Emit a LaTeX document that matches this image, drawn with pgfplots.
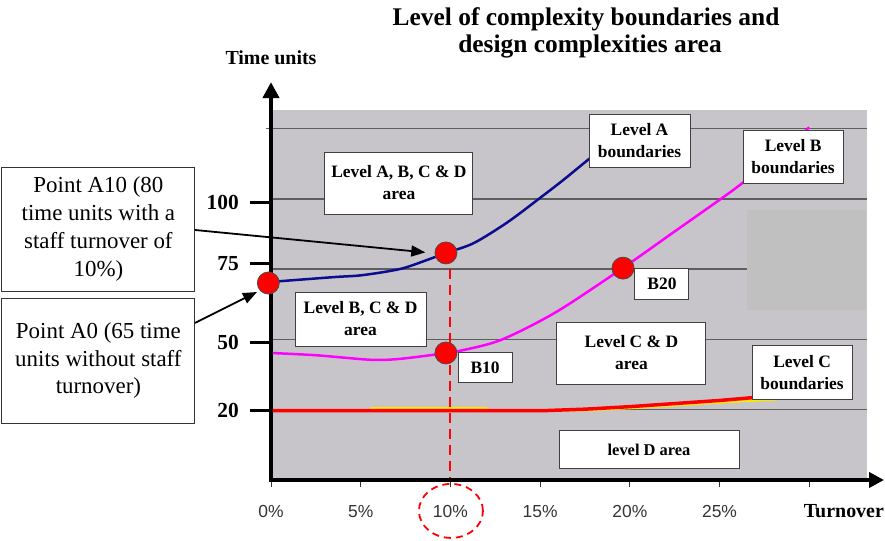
\documentclass[border=0pt]{standalone}
\usepackage{fontspec}
\setmainfont{Liberation Serif}
\setsansfont{Liberation Sans}
\usepackage{pgfplots}
\pgfplotsset{compat=1.18}
\usetikzlibrary{arrows.meta}
\definecolor{bgc}{HTML}{C7C5C9}
\definecolor{darkc}{HTML}{C0C0C0}
\definecolor{gridc}{HTML}{5E5E5E}
\definecolor{navyc}{HTML}{0C0C8E}
\definecolor{magc}{HTML}{FF00FF}
\definecolor{yelc}{HTML}{F5EA00}
\definecolor{tickc}{HTML}{333333}
\tikzset{
  bx/.style={draw=black!75, line width=0.9bp, fill=white, align=center, inner sep=0pt, font=\bfseries\fontsize{17.5}{22}\selectfont},
  lbx/.style={draw=black!80, line width=0.9bp, fill=white, align=center, inner sep=0pt, font=\fontsize{23}{28}\selectfont},
}
\begin{document}
\begin{tikzpicture}
\path[use as bounding box] (0,0) rectangle (885bp,541bp);
\begin{axis}[
  at={(271bp,61bp)}, anchor=south west,
  scale only axis, width=596bp, height=370bp,
  xmin=0, xmax=33.22, ymin=0, ymax=131.67,
  clip=false,
  axis lines*=left,
  axis line style={draw=none},
  tick align=outside,
  major tick length=7bp,
  xtick={0,5,10,15,20,25,30},
  xticklabels={0\%,5\%,10\%,15\%,20\%,25\%,},
  xtick style={tickc, line width=0.8bp},
  xticklabel style={font=\sffamily\fontsize{17.5}{17.5}\selectfont, text=tickc, anchor=base, inner sep=0pt, yshift=-30bp},
  ytick={24.9,49.1,76.9,98.9},
  yticklabels={20,50,75,100},
  ytick style={draw=none},
  yticklabel style={font=\bfseries\fontsize{21.5}{21.5}\selectfont, anchor=east, inner sep=0pt, xshift=-25bp},
  /pgf/number format/assume math mode=true,
]
% background
\fill[bgc] (rel axis cs:0,0) rectangle (rel axis cs:1,1);
% grid lines
\draw[gridc, line width=1.5bp] (axis cs:0,25) -- (axis cs:33.22,25);
\draw[gridc, line width=1.5bp] (axis cs:0,50) -- (axis cs:33.22,50);
\draw[gridc, line width=1.5bp] (axis cs:0,75) -- (axis cs:26.53,75);
\draw[gridc, line width=1.5bp] (axis cs:0,100) -- (axis cs:33.22,100);
\draw[gridc, line width=1.5bp] ([xshift=-5bp]axis cs:0,125) -- (axis cs:33.22,125);
% darker patch
\fill[darkc] (axis cs:26.53,60.5) rectangle (axis cs:33.16,96.1);

% Level C boundaries (yellow + red)
\addplot[yelc, line width=1.8bp] coordinates {
  (0,24.9) (5.5,24.9) (5.6,25.6) (12,25.6) (12.1,24.7) (17.5,24.7)
  (20,25.5) (22.5,26.5) (25,27.5) (28.2,28.6)};
\addplot[red, line width=3.5bp] coordinates {
  (0,24.7) (15.3,24.7) (17.5,25.2) (20,26.1) (22.5,27.2) (25,28.3) (27,29.4) (30,31)};
% Level B boundaries
\addplot[magc, line width=2.5bp, smooth, tension=0.5] coordinates {
  (0,45.2) (2.5,44.4) (5.5,42.8) (7,43.0) (9,44.5) (9.75,45.2) (10.4,45.8)
  (12.8,49.8) (15.9,59.8) (19.6,75.4) (22.4,88) (25.2,100.6) (26.3,105.8)
  (28,114.5) (30,125.5)};
% Level A boundaries
\addplot[navyc, line width=2.5bp, smooth, tension=0.5] coordinates {
  (0,70.5) (3.5,72.2) (5.1,72.9) (7.2,75.1) (8.7,78.3) (9.75,80.8)
  (11.3,84.3) (13.2,91.8) (15,100.4) (16.3,106.8) (17.8,114.6) (20,125.5)};
% dashed drop line at 10%
\addplot[red, line width=2bp, dash pattern=on 10bp off 6bp] coordinates {(10,80.8) (10,0)};
% dashed ellipse round 10%
\draw[red, line width=1.8bp, dash pattern=on 7bp off 5bp] (axis cs:10.03,-11) ellipse [x radius=32bp, y radius=27bp];

% text boxes
\node[bx, minimum width=148bp, minimum height=62bp] at (axis cs:7.13,105.7) {Level A, B, C \& D\\area};
\node[bx, minimum width=101bp, minimum height=53bp] at (axis cs:20.54,120.8) {Level A\\boundaries};
\node[bx, minimum width=100bp, minimum height=53bp] at (axis cs:29.10,115.1) {Level B\\boundaries};
\node[bx, minimum width=131bp, minimum height=54bp] at (axis cs:4.99,57.3) {Level B, C \& D\\area};
\node[bx, minimum width=54bp, minimum height=30bp] at (axis cs:11.93,39.9) {B10};
\node[bx, minimum width=54bp, minimum height=31bp] at (axis cs:21.79,69.9) {B20};
\node[bx, minimum width=149bp, minimum height=62bp] at (axis cs:20.09,45.2) {Level C \& D\\area};
\node[bx, minimum width=100bp, minimum height=54bp] at (axis cs:29.60,38.1) {Level C\\boundaries};
\node[bx, minimum width=180bp, minimum height=38bp, font=\bfseries\fontsize{16.5}{20}\selectfont] at (axis cs:21.07,10.7) {level D area};
\node[lbx, minimum width=193bp, minimum height=124bp] at (axis cs:-9.62,89.3) {Point A10 (80\\time units with a\\staff turnover of\\10\%)};
\node[lbx, minimum width=193bp, minimum height=125bp] at (axis cs:-9.62,42.5) {Point A0 (65 time\\units without staff\\turnover)};

% pointer arrows
\draw[line width=1.8bp, -{Triangle[length=14bp,width=11bp]}] (axis cs:-4.24,88.97) -- (axis cs:8.6,81.0);
\draw[line width=1.8bp, -{Triangle[length=14bp,width=11bp]}] (axis cs:-4.24,55.9) -- (axis cs:-0.78,66.9);

% axes with arrows
\draw[line width=4bp, {Triangle[length=15bp,width=15bp]}-{Triangle[length=16bp,width=16bp]}] (axis cs:34.17,0) -- (axis cs:0,0) -- (axis cs:0,141.6);
% y tick marks
\draw[line width=3bp] (axis cs:0,24.9) -- ++(-24bp,0);
\draw[line width=3bp] (axis cs:0,49.1) -- ++(-24bp,0);
\draw[line width=3bp] (axis cs:0,76.9) -- ++(-24bp,0);
\draw[line width=3bp] (axis cs:0,98.9) -- ++(-24bp,0);

% points
\addplot[only marks, mark=*, mark size=11bp, mark options={fill=red, draw=black!70, line width=0.8bp}]
  coordinates {(-0.15,70.1) (9.75,80.8) (9.75,45.2) (19.62,75.4)};

% titles and axis names
\node[anchor=base, font=\bfseries\fontsize{25.5}{28}\selectfont] at (axis cs:17.56,161.9) {Level of complexity boundaries and};
\node[anchor=base, font=\bfseries\fontsize{25.5}{28}\selectfont] at (axis cs:17.78,151.96) {design complexities area};
\node[anchor=base, font=\bfseries\fontsize{20}{20}\selectfont] at (axis cs:0,147.7) {Time units};
\node[anchor=base east, inner sep=0pt, font=\bfseries\fontsize{20}{20}\selectfont] at (axis cs:34.17,-13.2) {Turnover};
\end{axis}
\end{tikzpicture}
\end{document}
